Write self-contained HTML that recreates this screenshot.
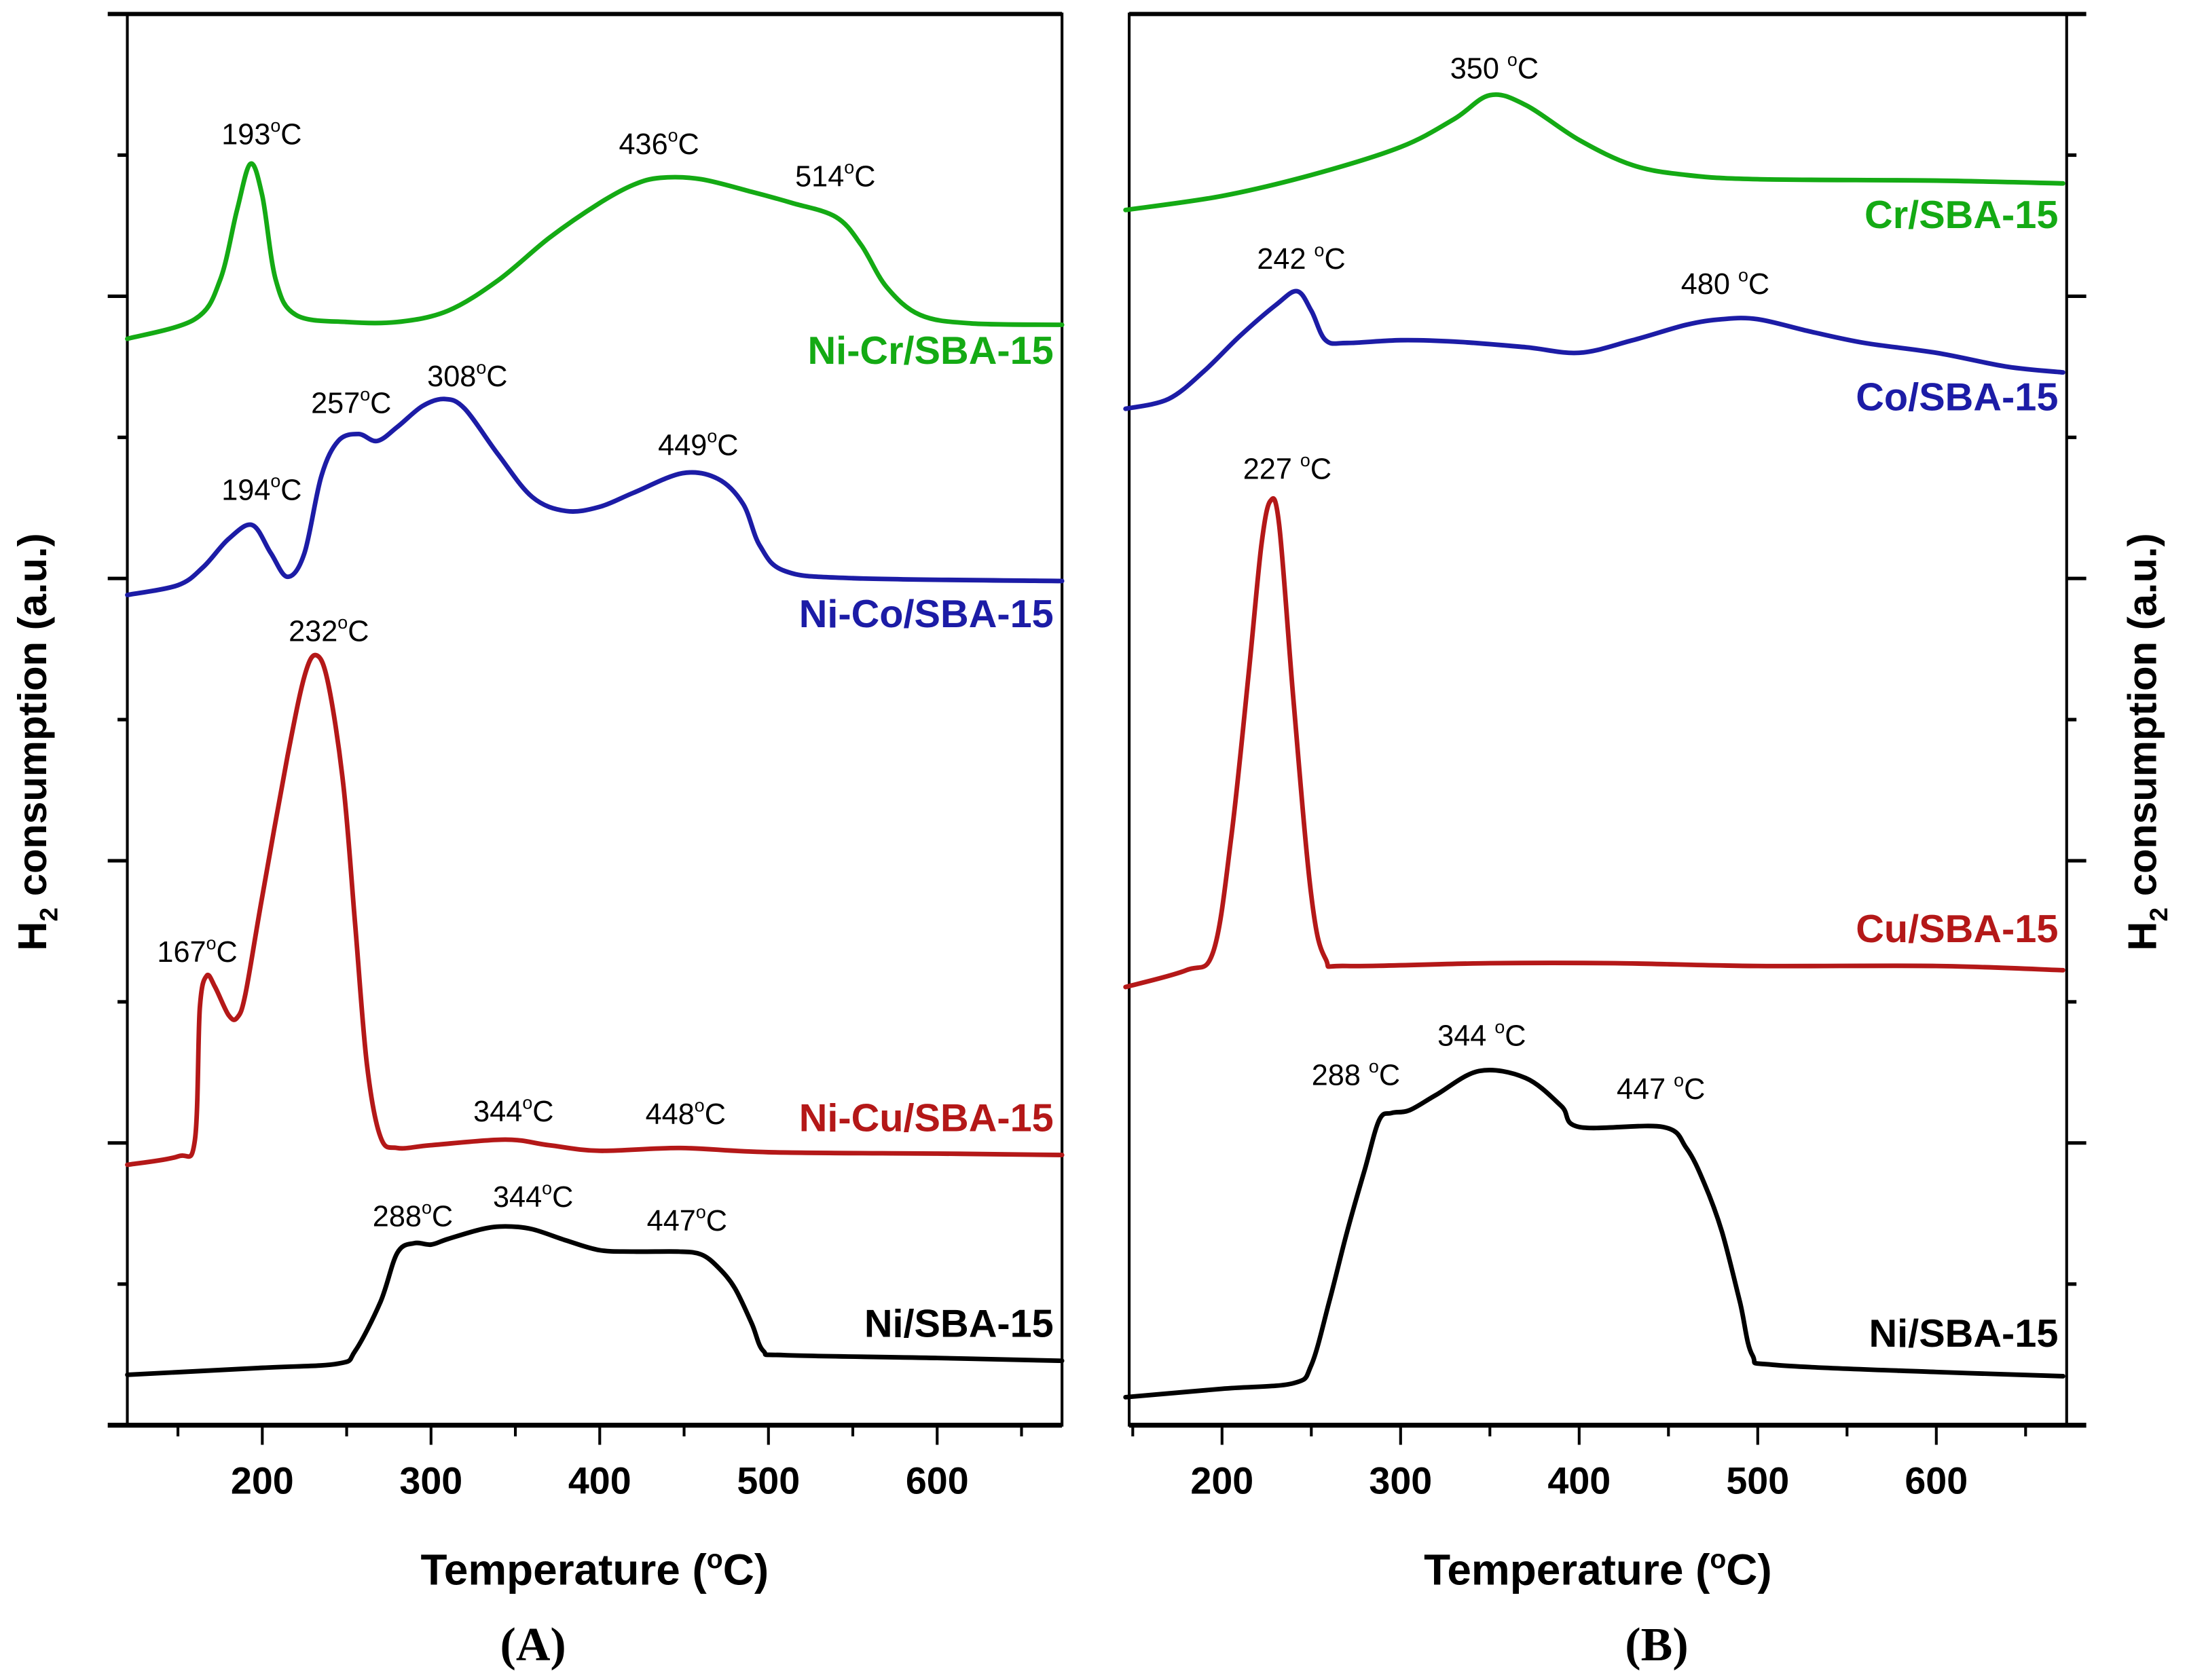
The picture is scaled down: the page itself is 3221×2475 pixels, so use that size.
<!DOCTYPE html>
<html><head><meta charset="utf-8"><style>
html,body{margin:0;padding:0;background:#fff;}
svg{display:block;}
</style></head><body>
<svg id="fig" width="3221" height="2475" viewBox="0 0 1563 1200" preserveAspectRatio="none" xmlns="http://www.w3.org/2000/svg" font-family="Liberation Sans, Arial, sans-serif"></svg>
<script>
// ---------- Panel A data (temperature °C, signal a.u.) ----------
const aNiT=[120,200,245,255,270,280,290,300,310,330,344,360,380,400,420,447,460,470,480,490,497,510,600,674];
const aNiV=[36,41,44,53,88,123,130,129,133,140,142,140,132,125,124,124,122,113,98,73,53,50,48,46];
const aCuT=[120,150,160,163,167,172,180,185,190,200,215,225,232,239,248,255,262,270,280,300,344,370,400,448,500,600,674];
const aCuV=[186,192,203,298,321,313,293,291,308,378,478,535,550,530,458,358,258,206,198,200,204,200,196,198,195,194,193];
const aCoT=[120,150,165,180,194,205,215,225,235,245,257,268,280,295,308,320,340,360,380,400,420,449,470,485,495,510,550,674];
const aCoV=[593,600,613,633,643,623,606,623,678,703,708,703,713,728,733,726,693,663,653,656,666,680,676,658,628,610,605,603];
const aCrT=[120,160,175,185,193,200,208,220,250,280,310,340,370,400,420,436,460,490,514,540,555,570,590,620,674];
const aCrV=[776,790,818,868,901,878,818,793,788,788,796,818,848,873,886,891,890,881,873,863,843,813,793,787,786];
// ---------- Panel B data ----------
const bNiT=[146,200,240,250,260,270,280,288,295,305,320,344,370,390,400,447,460,470,480,490,497,510,600,671];
const bNiV=[20,26,30,43,88,138,183,218,223,225,236,253,248,228,213,213,198,173,138,88,50,43,38,35];
const bCuT=[146,180,195,205,215,222,227,232,240,250,258,270,350,420,500,600,671];
const bCuV=[313,325,338,418,538,628,660,643,518,378,333,328,330,330,328,328,325];
const bCoT=[146,170,190,210,230,242,250,258,270,300,330,370,400,430,460,480,500,530,560,600,640,671];
const bCoV=[726,733,753,778,800,810,796,775,773,775,774,770,766,775,786,790,790,781,773,766,756,752];
const bCrT=[146,200,250,300,330,350,370,400,430,460,500,600,671];
const bCrV=[868,878,893,913,933,950,943,918,900,893,890,889,887];
const xTickLabels=[200,300,400,500,600];
const xMinor=[150,250,350,450,550,650];

const svg=document.getElementById('fig');
const NS='http://www.w3.org/2000/svg';
function el(tag,attrs,parent){const e=document.createElementNS(NS,tag);for(const k in attrs)e.setAttribute(k,attrs[k]);(parent||svg).appendChild(e);return e;}
const Y0=1018, TOP=10;
function yS(v){return Y0-v;}
const panels=[
 {id:'a',L:91,R:759,t0:120,t1:674,tickSide:'left'},
 {id:'b',L:807,R:1477,t0:148,t1:673,tickSide:'right'}
];
function xS(p,t){return p.L+(t-p.t0)/(p.t1-p.t0)*(p.R-p.L);}
function smoothPath(pts){
 let d='M'+pts[0][0].toFixed(1)+','+pts[0][1].toFixed(1);
 for(let i=0;i<pts.length-1;i++){
  const p0=pts[i-1]||pts[i],p1=pts[i],p2=pts[i+1],p3=pts[i+2]||p2;
  const c1=[p1[0]+(p2[0]-p0[0])/6,p1[1]+(p2[1]-p0[1])/6];
  const c2=[p2[0]-(p3[0]-p1[0])/6,p2[1]-(p3[1]-p1[1])/6];
  d+='C'+c1[0].toFixed(1)+','+c1[1].toFixed(1)+' '+c2[0].toFixed(1)+','+c2[1].toFixed(1)+' '+p2[0].toFixed(1)+','+p2[1].toFixed(1);
 }
 return d;
}
panels.forEach(p=>{
 const g=el('g',{});
 
 
 const f=el('rect',{x:p.L,y:TOP,width:p.R-p.L,height:Y0-TOP,fill:'none',stroke:'#000','stroke-width':2},g);
 
 
 const xa=el('line',{x1:p.L-(p.tickSide==='left'?14:0),x2:p.R+(p.tickSide==='right'?14:0),y1:Y0,y2:Y0,stroke:'#000','stroke-width':3.5},g);
 
 
 const ta=el('line',{x1:p.L-(p.tickSide==='left'?14:0),x2:p.R+(p.tickSide==='right'?14:0),y1:TOP,y2:TOP,stroke:'#000','stroke-width':3},g);
 
 
 xTickLabels.forEach(t=>{
  const x=xS(p,t);
  const tk=el('line',{x1:x,x2:x,y1:Y0,y2:Y0+14,stroke:'#000','stroke-width':2},g);
  
  
  const tl=el('text',{x:x,y:1067,'text-anchor':'middle','font-size':27,'font-weight':'bold'},g);
  tl.textContent=t;
  
  
 });
 xMinor.forEach(t=>{
  if(t<p.t0||t>p.t1)return;
  const x=xS(p,t);
  const tk=el('line',{x1:x,x2:x,y1:Y0,y2:Y0+8,stroke:'#000','stroke-width':2},g);
  
  
 });
 for(let i=1;i<=9;i++){
  const y=Y0-i*100.8, len=(i%2===0)?14:7;
  const xe=p.tickSide==='left'?p.L:p.R, dir=p.tickSide==='left'?-1:1;
  const tk=el('line',{x1:xe,x2:xe+dir*len,y1:y,y2:y,stroke:'#000','stroke-width':2.5},g);
  
  
 }
 const xt=el('text',{x:(p.L+p.R)/2,y:1132,'text-anchor':'middle','font-size':31,'font-weight':'bold'},g);
 xt.innerHTML='Temperature (<tspan font-size="19" dy="-12">o</tspan><tspan dy="12">C)</tspan>';
 
 
});
function series(p,T,V,color,name){
 const pts=T.map((t,i)=>[xS(p,t),yS(V[i])]);
 const path=el('path',{d:smoothPath(pts),fill:'none',stroke:color,'stroke-width':3.3,'stroke-linejoin':'round','stroke-linecap':'round'});
 
 
}
const GREEN='#14aa14',BLUE='#1c1ca6',RED='#b41818',BLACK='#000';
series(panels[0],aNiT,aNiV,BLACK,'line-ni-sba15-a');
series(panels[0],aCuT,aCuV,RED,'line-ni-cu-sba15');
series(panels[0],aCoT,aCoV,BLUE,'line-ni-co-sba15');
series(panels[0],aCrT,aCrV,GREEN,'line-ni-cr-sba15');
series(panels[1],bNiT,bNiV,BLACK,'line-ni-sba15-b');
series(panels[1],bCuT,bCuV,RED,'line-cu-sba15');
series(panels[1],bCoT,bCoV,BLUE,'line-co-sba15');
series(panels[1],bCrT,bCrV,GREEN,'line-cr-sba15');

function label(x,y,txt,color,name){
 const t=el('text',{x:x,y:y,'text-anchor':'end','font-size':28,'font-weight':'bold',fill:color});
 t.textContent=txt;
 
 
}
label(753,260,'Ni-Cr/SBA-15',GREEN,'label-ni-cr');
label(753,448,'Ni-Co/SBA-15',BLUE,'label-ni-co');
label(753,808,'Ni-Cu/SBA-15',RED,'label-ni-cu');
label(753,955,'Ni/SBA-15',BLACK,'label-ni-a');
label(1471,163,'Cr/SBA-15',GREEN,'label-cr');
label(1471,293,'Co/SBA-15',BLUE,'label-co');
label(1471,673,'Cu/SBA-15',RED,'label-cu');
label(1471,962,'Ni/SBA-15',BLACK,'label-ni-b');

function ann(x,y,num,sp){
 const t=el('text',{x:x,y:y,'text-anchor':'middle','font-size':21});
 t.innerHTML=num+(sp?' ':'')+'<tspan font-size="13" dy="-9">o</tspan><tspan dy="9">C</tspan>';
 
 
}
ann(187,103,'193');ann(471,110,'436');ann(597,133,'514');
ann(251,295,'257');ann(334,276,'308');ann(187,357,'194');ann(499,325,'449');
ann(235,458,'232');ann(141,687,'167');ann(367,801,'344');ann(490,803,'448');
ann(295,876,'288');ann(381,862,'344');ann(491,879,'447');
ann(1068,56,'350',1);ann(930,192,'242',1);ann(1233,210,'480',1);ann(920,342,'227',1);
ann(969,775,'288',1);ann(1059,747,'344',1);ann(1187,785,'447',1);

function ylab(x,name){
 const t=el('text',{x:0,y:0,'text-anchor':'middle','font-size':29,'font-weight':'bold',transform:'translate('+x+',530) rotate(-90)'});
 t.innerHTML='H<tspan font-size="18" dy="8">2</tspan><tspan dy="-8"> consumption (a.u.)</tspan>';
 
 
}
ylab(33,'y-axis-title-a');ylab(1541,'y-axis-title-b');

function plabel(x,txt,name){
 const t=el('text',{x:x,y:1186,'text-anchor':'middle','font-size':34,'font-weight':'bold','font-family':'Liberation Serif, serif'});
 t.textContent='('+txt+')';
 
 
}
plabel(381,'A','panel-label-a');plabel(1184,'B','panel-label-b');
</script>
</body></html>
